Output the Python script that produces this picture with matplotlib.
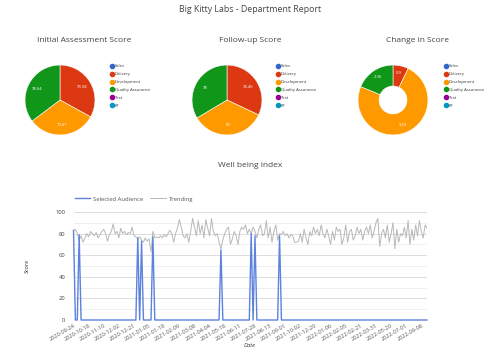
import matplotlib
matplotlib.use('Agg')
import matplotlib.pyplot as plt
from matplotlib.lines import Line2D

plt.rcParams['font.family'] = ['Open Sans', 'DejaVu Sans']

departments = ['Sales', 'Delivery', 'Development', 'Quality Assurance', 'Test', 'KF']
dept_colors = ['#3366cc', '#dc3912', '#ff9900', '#109618', '#990099', '#0099c6']

initial_score = [0, 73.58, 70.67, 78.64, 0, 0]
followup_score = [0, 74.46, 80, 78, 0, 0]
change_score = [0, 0.9, 9.33, 2.36, 0, 0]
initial_labels = ['', '73.58', '70.67', '78.64', '', '']
followup_labels = ['', '74.46', '80', '78', '', '']
change_labels = ['', '0.9', '9.33', '2.36', '', '']

# well being index, one value per reporting date
trending = [83, 84, 80, 74, 78, 72, 76, 80, 77, 82, 80,
            78, 81, 76, 79, 82, 84, 80, 73, 79, 82,
            89, 80, 82, 76, 85, 80, 82, 79, 81, 80,
            86, 78, 77, 75, 77, 74, 72, 76, 73, 75,
            63, 82, 76, 77, 76, 78, 76, 79, 77, 80,
            83, 80, 72, 80, 85, 93, 86, 78, 76, 80,
            72, 82, 94, 86, 78, 92, 80, 88, 76, 93,
            85, 78, 94, 82, 78, 80, 72, 66, 74, 80,
            84, 86, 70, 75, 82, 78, 70, 82, 86, 84,
            88, 80, 84, 80, 86, 82, 76, 84, 88, 78,
            80, 92, 76, 86, 72, 82, 88, 74, 80, 79,
            82, 78, 80, 76, 79, 78, 72, 72, 73, 80,
            72, 84, 76, 70, 82, 78, 86, 80, 84, 78,
            88, 80, 76, 84, 78, 70, 82, 74, 86, 82,
            84, 70, 76, 88, 72, 82, 84, 74, 78, 86,
            80, 84, 74, 82, 86, 80, 88, 76, 82, 90,
            94, 68, 80, 84, 76, 88, 72, 80, 90, 66,
            84, 72, 80, 78, 86, 76, 92, 70, 84, 74,
            88, 78, 92, 82, 76, 88, 85]
selected = [0] * len(trending)
for i, v in [(0, 83), (3, 79), (34, 76), (36, 73), (42, 77), (78, 65), (94, 80), (96, 78), (109, 78)]:
    selected[i] = v

date_labels = ['2020-09-24', '2020-10-18', '2020-11-10', '2020-12-02', '2020-12-21', '2021-01-05',
               '2021-01-18', '2021-02-09', '2021-03-08', '2021-04-04', '2021-05-18', '2021-06-11',
               '2021-07-28', '2021-08-13', '2021-09-01', '2021-10-02', '2021-12-20', '2022-01-06',
               '2022-02-05', '2022-02-21', '2022-03-31', '2022-05-20', '2022-07-01', '2022-09-08']
label_step = 8

W, H = 504, 355
fig = plt.figure(figsize=(W / 100, H / 100), dpi=100)


def px_axes(x0, y0, w, h):
    return fig.add_axes([x0 / W, 1 - (y0 + h) / H, w / W, h / H])


fig.text(250 / W, 1 - 9 / H, 'Big Kitty Labs - Department Report', ha='center', va='center',
         fontsize=6.3, color='#444444')


def draw_pie(cx, title, tx, values, labels, legend_x, hole=None):
    ax = px_axes(cx - 36, 64, 72, 72)
    vals = [v for v in values if v > 0]
    cols = [c for v, c in zip(values, dept_colors) if v > 0]
    labs = iter([l for v, l in zip(values, labels) if v > 0])
    wp = dict(edgecolor='white', linewidth=0.4)
    if hole:
        wp['width'] = 1 - hole
    ax.pie(vals, colors=cols, startangle=90, counterclock=False, radius=1,
           autopct=lambda p: next(labs), pctdistance=0.72 if not hole else 0.78,
           wedgeprops=wp, textprops=dict(color='white', fontsize=3))
    ax.set_xlim(-1.03, 1.03)
    ax.set_ylim(-1.03, 1.03)
    ax.set_aspect('equal')
    fig.text(tx / W, 1 - 41 / H, title, ha='center', va='center', fontsize=6, color='#444444')
    handles = [Line2D([], [], marker='o', ls='', color=c, markersize=3) for c in dept_colors]
    fig.legend(handles, departments, loc='upper left', bbox_to_anchor=(legend_x / W, 1 - 62 / H),
               frameon=False, fontsize=3, labelspacing=0.95, handletextpad=0.1,
               handlelength=1, borderpad=0, labelcolor='#333333')


draw_pie(60, 'Initial Assessment Score', 84, initial_score, initial_labels, 108)
draw_pie(227, 'Follow-up Score', 250, followup_score, followup_labels, 274)
draw_pie(393, 'Change in Score', 417, change_score, change_labels, 442, hole=0.4)

fig.text(250 / W, 1 - 165 / H, 'Well being index', ha='center', va='center', fontsize=6, color='#444444')

ax = px_axes(73.5, 212, 353.5, 108)
x = list(range(len(trending)))
ax.plot(x, trending, color='#b8b8b8', lw=0.7, label='Trending', zorder=2)
ax.plot(x, selected, color='#5c82de', lw=1.0, label='Selected Audience', zorder=3, clip_on=False)
ax.set_xlim(0, len(trending) - 1)
ax.set_ylim(0, 100)
ax.set_yticks(range(0, 101, 20))
ax.set_yticks(range(10, 100, 20), minor=True)
ax.grid(True, axis='y', which='major', color='#d8d8d8', lw=0.6)
ax.grid(True, axis='y', which='minor', color='#ececec', lw=0.6)
ax.set_xticks(x[::label_step])
ax.set_xticklabels(date_labels, rotation=30, ha='right', rotation_mode='anchor', fontsize=4.1, color='#555555')
ax.tick_params(axis='both', which='both', length=0, pad=2)
ax.tick_params(axis='y', labelsize=4.2, labelcolor='#444444', pad=6)
for s in ax.spines.values():
    s.set_visible(False)
ax.set_axisbelow(True)
ax.set_ylabel('Score', fontsize=4.2, style='italic', color='#333333', labelpad=18)
ax.set_xlabel('Date', fontsize=4.2, style='italic', color='#333333', labelpad=1)
h, l = ax.get_legend_handles_labels()
ax.legend(h[::-1], l[::-1], loc='lower left', bbox_to_anchor=(-0.005, 1.07), ncol=2, frameon=False,
          fontsize=4.2, handlelength=2.6, handletextpad=0.6, columnspacing=1.2, borderpad=0,
          labelcolor='#555555')

fig.savefig('out.png', dpi=100)
